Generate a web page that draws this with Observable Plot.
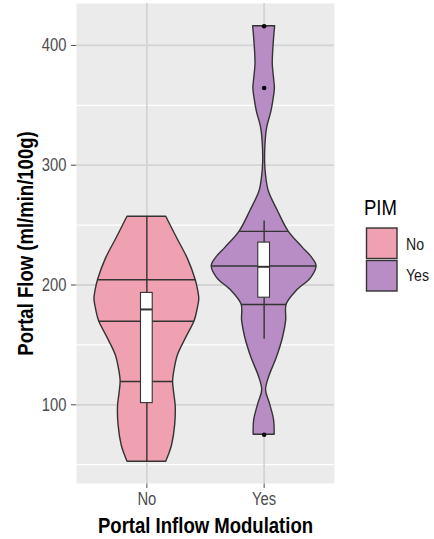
<!DOCTYPE html>
<html>
<head>
<meta charset="utf-8">
<script src="https://cdn.jsdelivr.net/npm/d3@7"></script>
<script src="https://cdn.jsdelivr.net/npm/@observablehq/plot@0.6"></script>
<style>
  html, body { margin: 0; padding: 0; background: #fff; }
  #wrap { position: relative; width: 434px; height: 539px; }
  #legend { position: absolute; left: 0; top: 0; pointer-events: none; }
</style>
</head>
<body>
<div id="wrap"><div id="chart"></div></div>
<script>
// ---- data ----
const categories = ["No", "Yes"];
const colors = ["#EFA0B1", "#B88DC5"];
const yTicks = [100, 200, 300, 400];
const yMinor = [50, 150, 250, 350];

// violin outline: value and relative half-width
const noVals  = [257, 238, 222, 204.4, 195, 188, 180, 169.7, 155, 141, 127, 119.5, 110, 99, 83, 66, 58, 52.5];
const noWidth = [0.37, 0.59, 0.78, 0.93, 0.98, 1.00, 0.97, 0.91, 0.74, 0.59, 0.52, 0.50, 0.52, 0.55, 0.54, 0.48, 0.42, 0.37];
const yesVals  = [416, 400, 384, 372, 364, 355, 345, 331, 317, 301, 290, 278, 262, 244.8, 231, 223, 215.9, 206, 195, 183.7, 170, 156, 139, 123, 112, 101, 87, 75];
const yesWidth = [0.21, 0.18, 0.165, 0.19, 0.205, 0.18, 0.14, 0.057, 0.025, 0.02, 0.04, 0.09, 0.26, 0.465, 0.74, 0.91, 1.00, 0.90, 0.62, 0.43, 0.42, 0.36, 0.24, 0.094, 0.037, 0.11, 0.19, 0.20];

// violin quantile lines (25/50/75 %)
const noQuantiles  = [119.5, 169.7, 204.4];
const yesQuantiles = [183.7, 215.9, 244.8];

// box plot statistics
const boxQ1     = [101.4, 189.4];
const boxMedian = [179.6, 215.2];
const boxQ3     = [193.4, 235.4];
const whiskLow  = [52.5, 154.7];
const whiskHigh = [257, 253.5];
const outliersYes = [416, 364.5, 75];

// ---- build tables ----
const FONT = "'Liberation Sans', Arial, sans-serif";
const NARROW = 0.82;
const HALF = 0.447, BOX = 0.05;
const profiles = [[noVals, noWidth], [yesVals, yesWidth]];
const violin = [];
profiles.forEach(([vals, ws], i) => {
  vals.forEach((v, j) => violin.push({group: categories[i], y: v, x1: i + 1 - ws[j] * HALF, x2: i + 1 + ws[j] * HALF}));
});
const qlines = [];
[noQuantiles, yesQuantiles].forEach((qs, i) => {
  const [vals, ws] = profiles[i];
  const w = d3.scaleLinear().domain(vals).range(ws);
  qs.forEach(q => qlines.push({y: q, x1: i + 1 - w(q) * HALF, x2: i + 1 + w(q) * HALF}));
});
const boxes = categories.map((c, i) => ({group: c, pos: i + 1, q1: boxQ1[i], med: boxMedian[i], q3: boxQ3[i], lo: whiskLow[i], hi: whiskHigh[i]}));
const outliers = outliersYes.map(v => ({pos: 2, y: v}));

const chart = Plot.plot({
  width: 434,
  height: 539,
  marginLeft: 76,
  marginRight: 100,
  marginTop: 3,
  marginBottom: 56,
  style: {fontFamily: FONT, fontSize: "18px", color: "#4d4d4d", background: "#fff"},
  x: {domain: [0.4, 2.6], ticks: [1, 2], tickFormat: d => categories[d - 1], tickSize: 5, tickPadding: 4, label: null},
  y: {domain: [34.3, 435], ticks: yTicks, tickSize: 5, tickPadding: 5, label: null},
  color: {domain: categories, range: colors},
  marks: [
    Plot.frame({fill: "#EBEBEB", stroke: "none"}),
    Plot.ruleY(yMinor, {stroke: "#ffffff", strokeWidth: 1.2}),
    Plot.ruleY(yTicks, {stroke: "#D4D4D4", strokeWidth: 1.8}),
    Plot.ruleX([1, 2], {stroke: "#D4D4D4", strokeWidth: 1.8}),
    Plot.areaX(violin, {y: "y", x1: "x1", x2: "x2", z: "group", fill: "group", stroke: "#333", strokeWidth: 1.4, curve: "catmull-rom"}),
    Plot.ruleY(qlines, {y: "y", x1: "x1", x2: "x2", stroke: "#333", strokeWidth: 1.4}),
    Plot.ruleX(boxes, {x: "pos", y1: "lo", y2: "hi", stroke: "#333", strokeWidth: 1.4}),
    Plot.rect(boxes, {x1: d => d.pos - BOX, x2: d => d.pos + BOX, y1: "q1", y2: "q3", fill: "#fff", stroke: "#333", strokeWidth: 1.1}),
    Plot.ruleY(boxes, {y: "med", x1: d => d.pos - BOX, x2: d => d.pos + BOX, stroke: "#333", strokeWidth: 2}),
    Plot.dot(outliers, {x: "pos", y: "y", r: 2.3, fill: "#000", stroke: "none"}),
    Plot.text(["Portal Flow (ml/min/100g)"], {frameAnchor: "left", dx: -51, rotate: -90, textAnchor: "middle", lineAnchor: "middle", fontSize: 22.6, fontWeight: "bold", fill: "#000"}),
    Plot.text(["Portal Inflow Modulation"], {frameAnchor: "bottom", dy: 42, textAnchor: "middle", lineAnchor: "middle", fontSize: 22.6, fontWeight: "bold", fill: "#000"})
  ]
});
document.getElementById("chart").appendChild(chart);

// ---- legend (right side) ----
const ns = "http://www.w3.org/2000/svg";
const lg = document.createElementNS(ns, "svg");
lg.setAttribute("id", "legend");
lg.setAttribute("width", 434);
lg.setAttribute("height", 539);
const title = document.createElementNS(ns, "text");
title.setAttribute("x", 364);
title.setAttribute("y", 215);
title.setAttribute("font-size", 22.6);
title.setAttribute("fill", "#000");
title.setAttribute("font-family", FONT);
title.textContent = "PIM";
lg.appendChild(title);
categories.forEach((c, i) => {
  const r = document.createElementNS(ns, "rect");
  r.setAttribute("x", 366.5);
  r.setAttribute("y", 228 + i * 32.5);
  r.setAttribute("width", 30.5);
  r.setAttribute("height", 30.5);
  r.setAttribute("fill", colors[i]);
  r.setAttribute("stroke", "#333");
  r.setAttribute("stroke-width", 1.4);
  lg.appendChild(r);
  const t = document.createElementNS(ns, "text");
  t.setAttribute("x", 406);
  t.setAttribute("y", 250 + i * 31);
  t.setAttribute("font-size", 17.2);
  t.setAttribute("fill", "#1a1a1a");
  t.setAttribute("font-family", FONT);
  t.textContent = c;
  lg.appendChild(t);
});
document.getElementById("wrap").appendChild(lg);

// the reference uses a narrow sans face: compress text horizontally
document.querySelectorAll("#wrap text").forEach(t => {
  const L = t.getComputedTextLength();
  if (L > 0) {
    t.setAttribute("textLength", (L * NARROW).toFixed(2));
    t.setAttribute("lengthAdjust", "spacingAndGlyphs");
  }
});
</script>
</body>
</html>
